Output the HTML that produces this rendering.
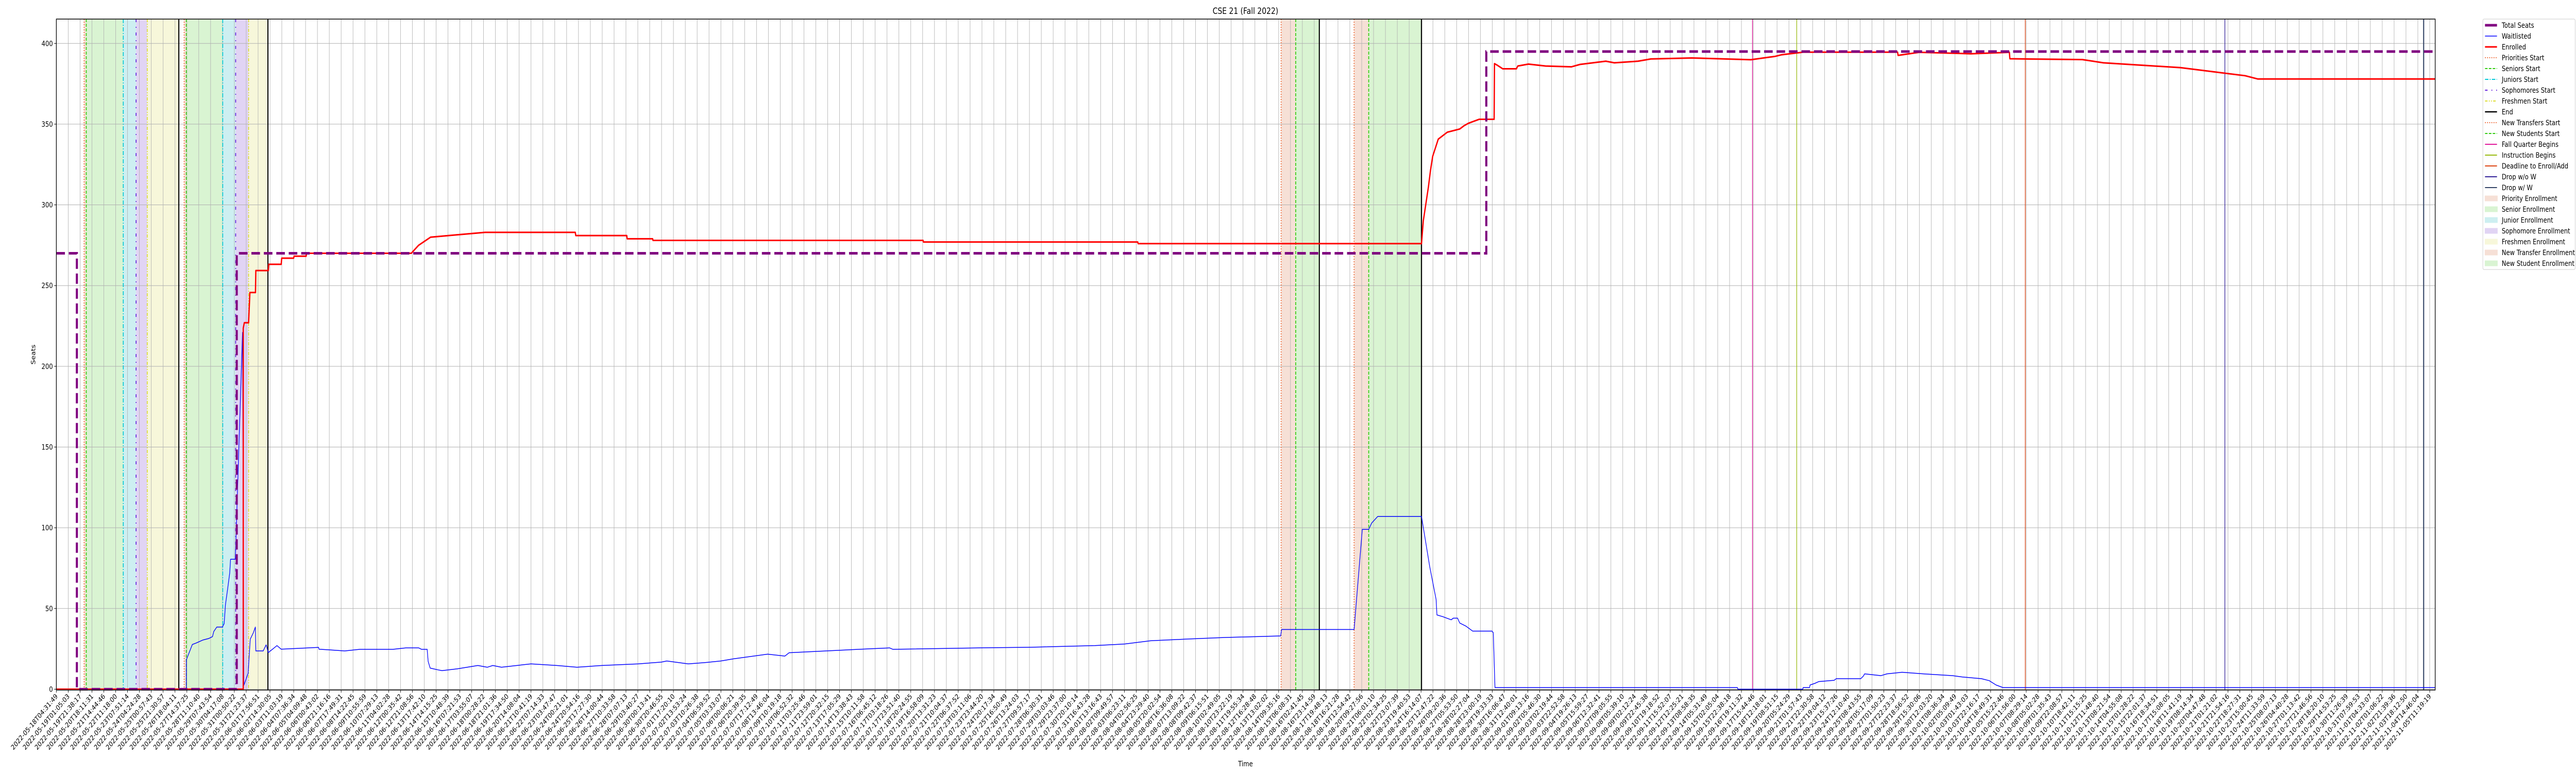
<!DOCTYPE html>
<html><head><meta charset="utf-8"><style>
html,body{margin:0;padding:0;background:#fff;width:100%;height:100%;overflow:hidden;}
svg{display:block;width:100vw;height:100vh;font-family:"DejaVu Sans","Liberation Sans",sans-serif;}
</style></head><body>
<svg id="chart" viewBox="0 0 6000 1500" preserveAspectRatio="none" xmlns="http://www.w3.org/2000/svg">
<rect width="6000" height="1500" fill="#fff"/>
<g id="spans"></g><g id="grid"></g><g id="events"></g><g id="series"></g><g id="axes"></g><g id="legend"></g>
<text x="2901" y="27" font-size="16.7" text-anchor="middle">CSE 21 (Fall 2022)</text>
<text transform="translate(82,688) rotate(-90)" font-size="14" text-anchor="middle">Seats</text>
<text x="2901" y="1487" font-size="14" text-anchor="middle">Time</text>
</svg>
<script>
// ---- data ----
const startTime = "2022-05-18T04:31:49";
const endTime = "2022-11-05T11:19:19";
const tickCount = 201;
const yTicks = [0,50,100,150,200,250,300,350,400];

const totalT = [0, 1.73, 1.73, 15.20, 15.20, 120.50, 120.50, 200.46];
const totalV = [270, 270, 0, 0, 270, 270, 395, 395];

const enrolledT = [0,15.75,15.75,15.84,16.20,16.31,16.78,16.81,17.86,17.90,18.95,18.99,20.0,20.03,21.05,21.08,29.91,30.53,31.54,36.13,43.73,43.77,48.07,48.1,50.25,50.28,73.04,73.07,91.13,91.16,115.04,115.19,115.62,115.8,115.98,116.45,117.21,118.26,118.62,118.98,119.89,121.16,121.19,121.45,121.88,123.04,123.15,124.05,125.5,127.67,128.4,130.57,131.29,133.28,134.37,137.81,142.8,144.85,145.4,147.2,155.16,155.2,156.98,161.32,164.58,164.62,170.73,172.5,179.0,184.45,185.5,200.46];
const enrolledV = [0,0,223.6,227,227,245.7,245.7,259.3,259.3,263.2,263.2,267,267,268.2,268.2,270,270,275,280,283,283,281,281,279,279,278,278,277,277,276,276,290,311,321.5,330,340.7,345,347,349,350.5,353,353,387.5,386.4,384.3,384.3,386,387.2,386,385.5,387,389,388,389,390.4,391,389.9,392,393,394.6,394.6,392.6,394.5,393.6,394.5,390.5,390,388,385,380,378,378];

const waitT = [0,10.95,10.96,11.46,11.78,12.36,12.84,13.16,13.27,13.52,13.99,14.14,14.25,14.43,14.61,14.68,15.08,15.69,15.80,16.16,16.34,16.59,16.77,16.81,17.43,17.68,17.86,18.22,18.59,18.95,22.10,22.13,24.3,25.57,28.36,29.44,30.53,30.78,31.25,31.33,31.5,32.15,32.5,33.78,34.62,35.52,36.31,36.78,37.51,38.81,40,42.17,43.87,45.97,49.05,51,51.44,53.25,54.66,56,57.05,59.94,61.39,61.75,67.61,70.21,70.5,77.67,82.08,87.51,90.04,92.21,95.11,98.36,103.17,103.25,109.36,110.05,110.59,110.85,111.35,115.04,115.73,116.27,116.34,116.81,117.54,117.72,118.08,118.26,118.8,119.35,120.98,121.09,121.23,141.66,141.7,147.17,147.2,147.74,147.78,148.18,148.51,149.81,149.99,152.05,152.27,152.38,153.76,154.26,155.53,157.34,159.8,160.6,162.23,162.88,163.46,164.04,200.46];
const waitV = [0,0,18.3,27.7,28.6,30.5,31.4,32.6,35.8,38.5,38.5,40.6,52.3,61.9,72,80.5,80.5,221,2.4,9.8,31,34.8,38.5,23.7,23.7,27.5,22.7,24.8,27,24.8,25.9,24.8,23.7,24.7,24.7,25.6,25.6,24.7,24.7,17.3,13.1,12,11.5,12.6,13.6,14.7,13.6,14.7,13.6,14.7,15.7,14.7,13.6,14.7,15.7,16.8,17.5,15.7,16.5,17.5,18.8,21.7,20.5,22.6,24.7,25.6,24.7,25.6,26,27,28,30,31,32,33,37,37,99,99,103,107,107,76,55.6,46,45,43,44,44,41,39,36,36,35,1,1,0,0,1,1,2.6,3.6,4.7,5.5,6.5,6.5,8.1,9.5,8.4,9.5,10.5,9.5,8.4,7.6,6.5,5.3,2.6,1,1];

const eventNames = ["Priorities Start","Seniors Start","Juniors Start","Sophomores Start","Freshmen Start","End","Priorities Start","Seniors Start","Juniors Start","Sophomores Start","Freshmen Start","End","New Transfers Start","New Students Start","End","New Transfers Start","New Students Start","End","Fall Quarter Begins","Instruction Begins","Deadline to Enroll/Add","Drop w/o W","Drop w/ W"];
const eventT = [2.34,2.52,5.64,6.72,7.66,10.32,10.77,10.95,14.02,15.11,16.20,17.83,103.21,104.44,106.43,109.36,110.59,115.04,142.93,146.66,165.92,182.74,199.49];

const spanNames = ["Priority Enrollment","Senior Enrollment","Junior Enrollment","Sophomore Enrollment","Freshmen Enrollment","Priority Enrollment","Senior Enrollment","Junior Enrollment","Sophomore Enrollment","Freshmen Enrollment","New Transfer Enrollment","New Student Enrollment","New Transfer Enrollment","New Student Enrollment"];
const spanStart = [2.34,2.52,5.64,6.72,7.66,10.77,10.95,14.02,15.11,16.20,103.21,104.44,109.36,110.59];
const spanEnd   = [2.52,5.64,6.72,7.66,10.32,10.95,14.02,15.11,16.20,17.83,104.44,106.43,110.59,115.04];

// ---- styles ----
const evStyle = {
 "Priorities Start":["#ee6633","2,3",2],"Seniors Start":["#33cc11","6,3",2],"Juniors Start":["#00c8d8","8,3,2,3",2],
 "Sophomores Start":["#6622dd","6,9,2,9",2],"Freshmen Start":["#dddd33","6,3,2,3,2,3",2],"End":["#000","",2.5],
 "New Transfers Start":["#ee6633","2,3",2],"New Students Start":["#33cc11","6,3",2],"Fall Quarter Begins":["#e0189a","",1.5],
 "Instruction Begins":["#99bb11","",1.5],"Deadline to Enroll/Add":["#dd4411","",1.5],"Drop w/o W":["#332299","",1.5],"Drop w/ W":["#334466","",2.5]};
const spStyle = {"Priority Enrollment":"#f6e0d6","Senior Enrollment":"#d9f4d2","Junior Enrollment":"#cdeff1","Sophomore Enrollment":"#e1d4f4","Freshmen Enrollment":"#f7f7da","New Transfer Enrollment":"#f6e0d6","New Student Enrollment":"#d9f4d2"};

// ---- scales ----
const L=131.25, R=5672, T=37, B=1339, step=27.64;
const X = t => L + t*step;
const Y = v => 1337.4 - v*3.1328;
const NS="http://www.w3.org/2000/svg";
function mk(tag, parent, attrs){const e=document.createElementNS(NS,tag);for(const k in attrs)e.setAttribute(k,attrs[k]);parent.appendChild(e);return e;}
const gS=document.getElementById('spans'),gG=document.getElementById('grid'),gE=document.getElementById('events'),gD=document.getElementById('series'),gA=document.getElementById('axes'),gL=document.getElementById('legend');

// tick labels
const t0=Date.parse(startTime+"Z"), t1=Date.parse(endTime+"Z");
const tickLabels=[];
for(let i=0;i<tickCount;i++){tickLabels.push(new Date(t0+(t1-t0)*i/(tickCount-1)).toISOString().slice(0,19));}

// spans
for(let i=0;i<spanStart.length;i++){
 const r=mk('rect',gS,{x:X(spanStart[i]),y:T,width:X(spanEnd[i])-X(spanStart[i]),height:B-T,fill:spStyle[spanNames[i]]});
 
 
}
// grid
for(let i=0;i<tickCount;i++){
 const l=mk('line',gG,{x1:X(i),x2:X(i),y1:T,y2:B,stroke:'#b0b0b0','stroke-width':1});
 
 
}
for(const v of yTicks){
 const l=mk('line',gG,{x1:L,x2:R,y1:Y(v),y2:Y(v),stroke:'#b0b0b0','stroke-width':1});
 
 
}
// events
for(let i=0;i<eventT.length;i++){
 const s=evStyle[eventNames[i]];
 const l=mk('line',gE,{x1:X(eventT[i]),x2:X(eventT[i]),y1:T,y2:B,stroke:s[0],'stroke-width':s[2]});
 if(s[1])l.setAttribute('stroke-dasharray',s[1]);
 
 
}
// series
function pts(ts,vs){return ts.map((t,i)=>X(t).toFixed(2)+','+Y(vs[i]).toFixed(2)).join(' ');}
const wl=mk('polyline',gD,{points:pts(waitT,waitV),fill:'none',stroke:'#0000ff','stroke-width':1.5,'stroke-linejoin':'round'});


const en=mk('polyline',gD,{points:pts(enrolledT,enrolledV),fill:'none',stroke:'#ff0000','stroke-width':3,'stroke-linejoin':'round'});


const ts=mk('polyline',gD,{points:pts(totalT,totalV),fill:'none',stroke:'#800080','stroke-width':5,'stroke-dasharray':'20,9'});



// axes
const fr=mk('rect',gA,{x:L,y:T,width:R-L,height:B-T,fill:'none',stroke:'#000','stroke-width':1.5});


for(const v of yTicks){
 mk('line',gA,{x1:L-5,x2:L,y1:Y(v),y2:Y(v),stroke:'#000','stroke-width':1});
 const t=mk('text',gA,{x:L-8,y:Y(v)+5,'font-size':14,'text-anchor':'end'});
 t.textContent=v;
 
 
}
for(let i=0;i<tickCount;i++){
 const x=X(i);
 mk('line',gA,{x1:x,x2:x,y1:B,y2:B+5,stroke:'#000','stroke-width':1});
 const t=mk('text',gA,{x:0,y:0,'font-size':13.5,'text-anchor':'end',transform:`translate(${x+4},${B+13}) rotate(-45)`});
 t.textContent=tickLabels[i];
 
 
}

// legend
const legItems=[["Total Seats","line","#800080","",5],["Waitlisted","line","#0000ff","",1.5],["Enrolled","line","#ff0000","",3],
 ["Priorities Start","line","#ee6633","2,3",2],["Seniors Start","line","#33cc11","6,3",2],["Juniors Start","line","#00c8d8","8,3,2,3",2],
 ["Sophomores Start","line","#6622dd","6,9,2,9",2],["Freshmen Start","line","#dddd33","6,3,2,3,2,3",2],["End","line","#000","",2.5],
 ["New Transfers Start","line","#ee6633","2,3",2],["New Students Start","line","#33cc11","6,3",2],["Fall Quarter Begins","line","#e0189a","",2],
 ["Instruction Begins","line","#99bb11","",2],["Deadline to Enroll/Add","line","#dd4411","",2],["Drop w/o W","line","#332299","",2],["Drop w/ W","line","#334466","",2],
 ["Priority Enrollment","rect","#f6e0d6"],["Senior Enrollment","rect","#d9f4d2"],["Junior Enrollment","rect","#cdeff1"],["Sophomore Enrollment","rect","#e1d4f4"],
 ["Freshmen Enrollment","rect","#f7f7da"],["New Transfer Enrollment","rect","#f6e0d6"],["New Student Enrollment","rect","#d9f4d2"]];
const lb=mk('rect',gL,{x:5783,y:37,width:215,height:486,rx:3,fill:'#fff',stroke:'#cccccc','stroke-width':1});


legItems.forEach((it,i)=>{
 const cy=49+i*21;
 const g=mk('g',gL,{});
 
 
 if(it[1]==='line'){
  const l=mk('line',g,{x1:5788,x2:5816,y1:cy,y2:cy,stroke:it[2],'stroke-width':it[4]});
  if(it[3])l.setAttribute('stroke-dasharray',it[3]);
 } else {
  mk('rect',g,{x:5788,y:cy-5,width:29,height:10,fill:it[2],stroke:it[2]});
 }
 const t=mk('text',g,{x:5827,y:cy+5,'font-size':13.9});
 t.textContent=it[0];
});
</script>
</body></html>
